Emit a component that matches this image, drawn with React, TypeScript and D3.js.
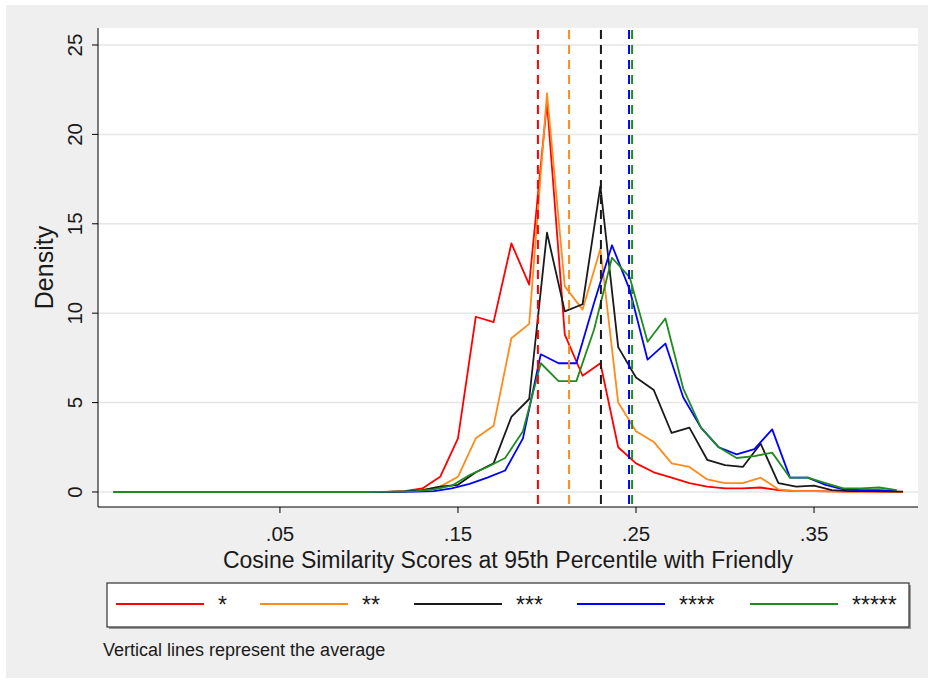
import React from "react";
import * as d3 from "d3";

const W = 933;
const H = 683;
const plot = { left: 98, right: 918, top: 28, bottom: 507 };
const FONT = "'Liberation Sans', Arial, sans-serif";

// bin centres (two sets of bins: red/orange/black vs blue/green)
const binsA = [-0.04, -0.03, -0.02, -0.01, 0, 0.01, 0.02, 0.03, 0.04, 0.05, 0.06, 0.07, 0.08, 0.09, 0.1, 0.11, 0.12, 0.13, 0.14, 0.15, 0.16, 0.17, 0.18, 0.19, 0.2, 0.21, 0.22, 0.23, 0.24, 0.25, 0.26, 0.27, 0.28, 0.29, 0.3, 0.31, 0.32, 0.33, 0.34, 0.35, 0.36, 0.37, 0.38, 0.39, 0.4];
const binsB = [-0.0435, -0.0335, -0.0235, -0.0135, -0.0035, 0.0065, 0.0165, 0.0265, 0.0365, 0.0465, 0.0565, 0.0665, 0.0765, 0.0865, 0.0965, 0.1065, 0.1165, 0.1265, 0.1365, 0.1465, 0.1565, 0.1665, 0.1765, 0.1865, 0.1965, 0.2065, 0.2165, 0.2265, 0.2365, 0.2465, 0.2565, 0.2665, 0.2765, 0.2865, 0.2965, 0.3065, 0.3165, 0.3265, 0.3365, 0.3465, 0.3565, 0.3665, 0.3765, 0.3865, 0.3965];

// density values per rating group
const oneStar = [0, 0, 0, 0, 0, 0, 0, 0, 0, 0, 0, 0, 0, 0, 0.01, 0.01, 0.05, 0.2, 0.85, 3.0, 9.8, 9.5, 13.9, 11.6, 21.8, 8.8, 6.5, 7.2, 2.5, 1.6, 1.1, 0.8, 0.5, 0.3, 0.2, 0.2, 0.25, 0.1, 0.05, 0.05, 0.03, 0.02, 0.02, 0.01, 0.01];
const twoStar = [0, 0, 0, 0, 0, 0, 0, 0, 0, 0, 0, 0, 0, 0, 0, 0.01, 0.03, 0.1, 0.3, 0.85, 3.0, 3.7, 8.6, 9.4, 22.3, 11.5, 10.2, 13.6, 5.0, 3.4, 2.8, 1.6, 1.4, 0.7, 0.5, 0.5, 0.8, 0.15, 0.05, 0.05, 0.03, 0.02, 0.01, 0.01, 0.01];
const threeStar = [0, 0, 0, 0, 0, 0, 0, 0, 0, 0, 0, 0, 0, 0, 0, 0.01, 0.03, 0.1, 0.3, 0.4, 1.1, 1.6, 4.2, 5.2, 14.5, 10.1, 10.5, 17.1, 8.1, 6.4, 5.7, 3.3, 3.6, 1.8, 1.5, 1.4, 2.7, 0.5, 0.3, 0.35, 0.1, 0.05, 0.05, 0.03, 0.02];
const fourStar = [0, 0, 0, 0, 0, 0, 0, 0, 0, 0, 0, 0, 0, 0, 0, 0, 0.01, 0.02, 0.05, 0.2, 0.45, 0.8, 1.2, 3.0, 7.7, 7.2, 7.2, 10.6, 13.8, 11.3, 7.4, 8.3, 5.3, 3.6, 2.5, 2.1, 2.4, 3.5, 0.8, 0.8, 0.4, 0.15, 0.1, 0.1, 0.05];
const fiveStar = [0, 0, 0, 0, 0, 0, 0, 0, 0, 0, 0, 0, 0, 0, 0, 0.01, 0.02, 0.05, 0.15, 0.35, 0.95, 1.4, 1.9, 3.4, 7.2, 6.2, 6.2, 9.1, 13.1, 12.0, 8.4, 9.7, 5.8, 3.6, 2.5, 1.9, 2.0, 2.2, 0.8, 0.8, 0.5, 0.2, 0.2, 0.25, 0.1];

const labels = ["*", "**", "***", "****", "*****"];
const colors = ["#ff0000", "#ff8c1a", "#1a1a1a", "#0000ff", "#1f8c1f"];
const means = [0.1949, 0.2124, 0.2303, 0.2461, 0.2478];

const xTicks = [0.05, 0.15, 0.25, 0.35];
const xTickLabels = [".05", ".15", ".25", ".35"];
const yTicks = [0, 5, 10, 15, 20, 25];

// legend layout (left edge of each key)
const legendX = [116, 260, 414, 577, 750];

const App = () => {
  const x = d3.scaleLinear().domain([-0.0522, 0.4084]).range([plot.left, plot.right]);
  const y = d3.scaleLinear().domain([-0.84, 25.95]).range([plot.bottom, plot.top]);

  const series = [
    { bins: binsA, values: oneStar },
    { bins: binsA, values: twoStar },
    { bins: binsA, values: threeStar },
    { bins: binsB, values: fourStar },
    { bins: binsB, values: fiveStar },
  ];

  const line = d3
    .line<[number, number]>()
    .x((d) => x(d[0]))
    .y((d) => y(d[1]));

  return (
    <svg width={W} height={H} style={{ position: "absolute", left: 0, top: 0 }} fontFamily={FONT}>
      <rect x={0} y={0} width={W} height={H} fill="#ffffff" />
      <rect x={6} y={5} width={922} height={673} fill="#efefef" />
      <rect x={plot.left} y={plot.top} width={plot.right - plot.left} height={plot.bottom - plot.top} fill="#ffffff" />

      {/* gridlines */}
      {yTicks.map((t) => (
        <line key={"g" + t} x1={plot.left} x2={plot.right} y1={y(t)} y2={y(t)} stroke="#e6e6e6" strokeWidth={1.5} />
      ))}

      {/* density lines */}
      {series.map((s, i) => (
        <path
          key={"s" + i}
          d={line(s.bins.map((b, j) => [b, s.values[j]] as [number, number])) || ""}
          fill="none"
          stroke={colors[i]}
          strokeWidth={1.8}
          strokeLinejoin="round"
        />
      ))}

      {/* mean lines */}
      {means.map((m, i) => (
        <line
          key={"m" + i}
          x1={x(m)}
          x2={x(m)}
          y1={plot.top + 2}
          y2={plot.bottom}
          stroke={colors[i]}
          strokeWidth={2}
          strokeDasharray="9,6"
        />
      ))}

      {/* y axis */}
      <line x1={plot.left} x2={plot.left} y1={plot.top} y2={plot.bottom} stroke="#000" strokeWidth={1} />
      {yTicks.map((t) => (
        <g key={"yt" + t}>
          <line x1={plot.left - 6} x2={plot.left} y1={y(t)} y2={y(t)} stroke="#000" strokeWidth={1} />
          <text
            transform={`translate(${plot.left - 16},${y(t)}) rotate(-90)`}
            textAnchor="middle"
            fontSize={20.5}
            fill="#1a1a1a"
          >
            {t}
          </text>
        </g>
      ))}
      <text transform={`translate(53,${(plot.top + plot.bottom) / 2}) rotate(-90)`} textAnchor="middle" fontSize={25} fill="#1a1a1a">
        Density
      </text>

      {/* x axis */}
      <line x1={plot.left} x2={plot.right} y1={plot.bottom} y2={plot.bottom} stroke="#000" strokeWidth={1} />
      {xTicks.map((t, i) => (
        <g key={"xt" + t}>
          <line x1={x(t)} x2={x(t)} y1={plot.bottom} y2={plot.bottom + 6} stroke="#000" strokeWidth={1} />
          <text x={x(t)} y={plot.bottom + 34} textAnchor="middle" fontSize={20.5} fill="#1a1a1a">
            {xTickLabels[i]}
          </text>
        </g>
      ))}
      <text x={(plot.left + plot.right) / 2} y={568} textAnchor="middle" fontSize={23} fill="#1a1a1a">
        Cosine Similarity Scores at 95th Percentile with Friendly
      </text>

      {/* legend */}
      <rect x={109} y={585} width={802} height={44} fill="#9a9a9a" />
      <rect x={107} y={583} width={802} height={44} fill="#ffffff" stroke="#333" strokeWidth={1.2} />
      {labels.map((l, i) => (
        <g key={"l" + i}>
          <line x1={legendX[i]} x2={legendX[i] + 88} y1={604} y2={604} stroke={colors[i]} strokeWidth={2} />
          <text x={legendX[i] + 102} y={613} fontSize={23} fill="#1a1a1a">
            {l}
          </text>
        </g>
      ))}

      <text x={103} y={656} fontSize={18} fill="#1a1a1a">
        Vertical lines represent the average
      </text>
    </svg>
  );
};

export default App;
